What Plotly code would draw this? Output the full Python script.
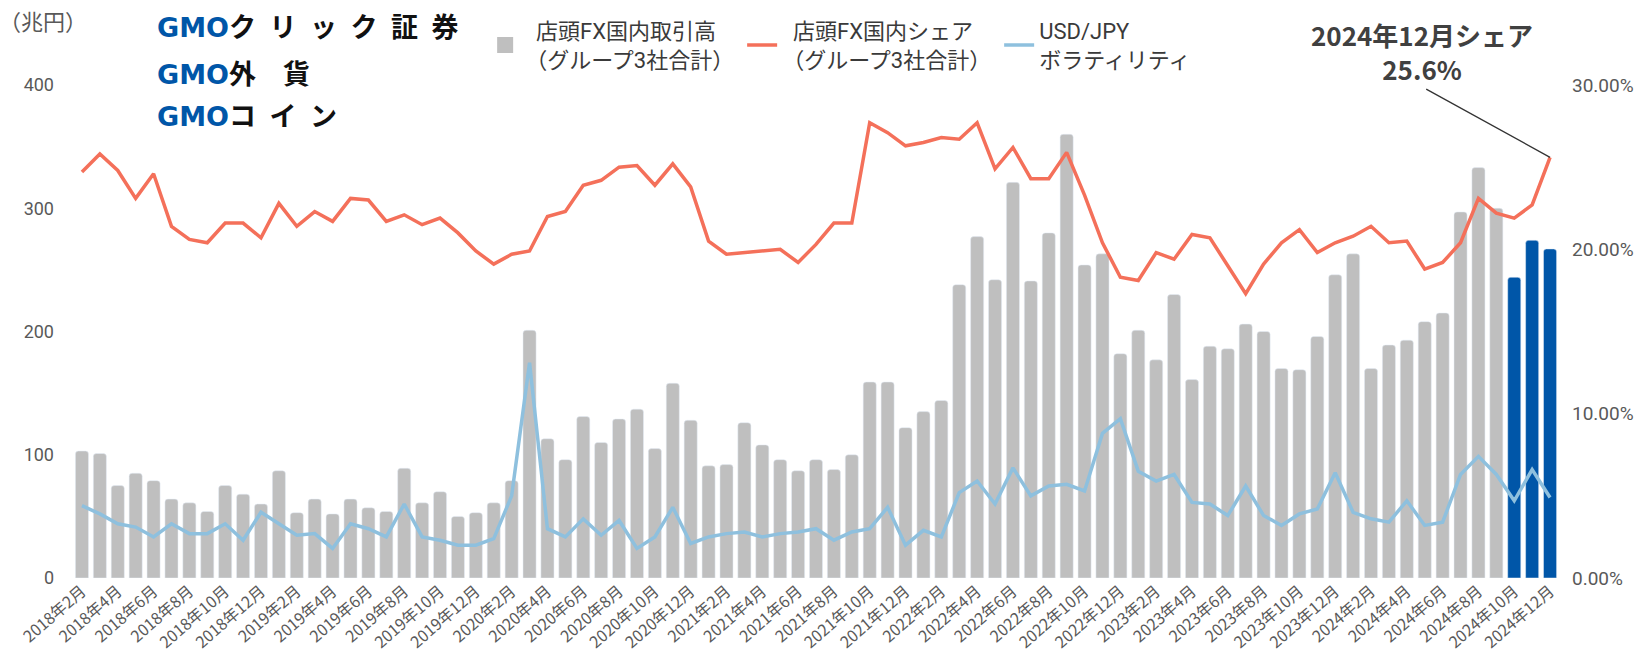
import plotly.graph_objects as go

# 月ラベル 2018年2月 - 2024年12月
months = []
for y in range(2018, 2025):
    for m in range(1, 13):
        if y == 2018 and m < 2:
            continue
        months.append(f"{y}年{m}月")

# 店頭FX国内取引高（兆円）
volume = [103, 101, 75, 85, 79, 64, 61, 54, 75, 68, 60, 87,
          53, 64, 52, 64, 57, 54, 89, 61, 70, 50, 53, 61,
          79, 201, 113, 96, 131, 110, 129, 137, 105, 158, 128,
          91, 92, 126, 108, 96, 87, 96, 88, 100, 159, 159, 122,
          135, 144, 238, 277, 242, 321, 241, 280, 360, 254, 263,
          182, 201, 177, 230, 161, 188, 186, 206, 200, 170, 169,
          196, 246, 263, 170, 189, 193, 208, 215, 297, 333, 300,
          244, 274, 267]

# 店頭FX国内シェア（%）
share = [24.7, 25.8, 24.8, 23.1, 24.6, 21.4, 20.6, 20.4, 21.6, 21.6, 20.7, 22.8,
         21.4, 22.3, 21.7, 23.1, 23.0, 21.7, 22.1, 21.5, 21.9, 21.0, 19.9, 19.1,
         19.7, 19.9, 22.0, 22.3, 23.9, 24.2, 25.0, 25.1, 23.9, 25.2, 23.8,
         20.5, 19.7, 19.8, 19.9, 20.0, 19.2, 20.3, 21.6, 21.6, 27.7, 27.1, 26.3,
         26.5, 26.8, 26.7, 27.7, 24.9, 26.2, 24.3, 24.3, 25.9, 23.3, 20.4,
         18.3, 18.1, 19.8, 19.4, 20.9, 20.7, 19.0, 17.3, 19.1, 20.4, 21.2,
         19.8, 20.4, 20.8, 21.4, 20.4, 20.5, 18.8, 19.2, 20.4, 23.1, 22.2,
         21.9, 22.7, 25.6]

# USD/JPY ボラティリティ（%）
vola = [4.4, 3.9, 3.3, 3.1, 2.5, 3.3, 2.7, 2.7, 3.3, 2.3, 4.0, 3.3,
        2.6, 2.7, 1.8, 3.3, 3.0, 2.5, 4.5, 2.5, 2.3, 2.0, 2.0, 2.4,
        5.0, 13.1, 3.0, 2.5, 3.6, 2.6, 3.5, 1.8, 2.5, 4.3, 2.1,
        2.5, 2.7, 2.8, 2.5, 2.7, 2.8, 3.0, 2.3, 2.8, 3.0, 4.3, 2.0,
        2.9, 2.5, 5.2, 5.9, 4.5, 6.7, 5.0, 5.6, 5.7, 5.3, 8.8,
        9.7, 6.5, 5.9, 6.3, 4.6, 4.5, 3.8, 5.6, 3.8, 3.2, 3.9,
        4.2, 6.4, 4.0, 3.6, 3.4, 4.7, 3.2, 3.4, 6.3, 7.4, 6.3,
        4.7, 6.6, 4.9]

bar_colors = ["#bfbfbf"] * (len(months) - 3) + ["#0056a8"] * 3

FONT = "Roboto, 'Noto Sans CJK JP', sans-serif"
JFONT = "'Noto Sans CJK JP', Roboto, sans-serif"

fig = go.Figure()
fig.add_trace(go.Bar(
    x=months, y=volume, marker=dict(color=bar_colors, cornerradius=3),
    name="vol", showlegend=False))
# 凡例用（グレーの四角）
fig.add_trace(go.Scatter(
    x=[None], y=[None], mode="markers",
    marker=dict(color="#bfbfbf", symbol="square", size=16),
    name="\u00a0\u00a0店頭FX国内取引高<br>（グループ3社合計）"))
fig.add_trace(go.Scatter(
    x=months, y=[s / 100 for s in share], yaxis="y2", mode="lines",
    line=dict(color="#f4705a", width=3.5),
    name="\u00a0\u00a0店頭FX国内シェア<br>（グループ3社合計）"))
fig.add_trace(go.Scatter(
    x=months, y=[v / 100 for v in vola], yaxis="y2", mode="lines",
    line=dict(color="#8ec0de", width=3.5),
    name="USD/JPY<br>ボラティリティ"))

fig.update_layout(
    width=1639, height=657,
    margin=dict(l=73, r=80, t=85, b=79),
    plot_bgcolor="white", paper_bgcolor="white",
    font=dict(family=FONT, color="#595959"),
    bargap=0.27,
    xaxis=dict(
        type="category", tickvals=months[::2], ticktext=months[::2],
        tickangle=-41, tickfont=dict(size=16, family=JFONT, color="#595959"),
        showgrid=False, showline=False, ticks="", automargin=False,
        range=[-0.5, len(months) - 0.5]),
    yaxis=dict(
        range=[0, 400], dtick=100, showgrid=False, zeroline=False,
        tickfont=dict(size=18), ticklabelstandoff=18, automargin=False),
    yaxis2=dict(
        overlaying="y", side="right", range=[0, 0.30],
        tickvals=[0, 0.1, 0.2, 0.3], tickformat=".2%",
        showgrid=False, zeroline=False, tickfont=dict(size=19),
        ticklabelstandoff=12, automargin=False),
    legend=dict(
        orientation="h", xref="container", yref="container",
        x=0.296, xanchor="left", y=0.985, yanchor="top",
        font=dict(size=22, family=FONT, color="#3a3a3a"),
        bgcolor="rgba(0,0,0,0)", itemwidth=30, entrywidth=212,
        tracegroupgap=0),
    showlegend=True,
)

# 単位
fig.add_annotation(
    text="（兆円）", xref="paper", yref="paper", x=-0.02, y=1.132,
    xanchor="center", yanchor="middle", showarrow=False,
    font=dict(size=22, family=JFONT, color="#595959"))

# ロゴ（テキスト）
logos = ["ク\u2002リ\u2002ッ\u2002ク\u2002証\u2002券", "外\u2003貨", "コ\u2002イ\u2002ン"]
logo_y = [1.12, 1.025, 0.94]
for name, ly in zip(logos, logo_y):
    fig.add_annotation(
        text=f"<b><span style='color:#0056a8;font-family:DejaVu Sans'>GMO</span>{name}</b>",
        xref="paper", yref="paper", x=0.055, y=ly,
        xanchor="left", yanchor="middle", showarrow=False,
        font=dict(size=27, family=JFONT, color="#111111"))

# 2024年12月シェア
fig.add_annotation(
    xref="paper", yref="paper", x=0.908, y=1.068,
    text="<b>2024年12月シェア<br>25.6%</b>", showarrow=False,
    xanchor="center", yanchor="middle",
    font=dict(size=26, family=JFONT, color="#404040"))
fig.add_annotation(
    x=months[-1], y=share[-1] / 100, xref="x", yref="y2",
    axref="x", ayref="y2", ax=months[75], ay=0.298, text="",
    showarrow=True, arrowhead=0, arrowwidth=1.3, arrowcolor="#333333")

fig.write_html("out.html", config={"displayModeBar": False},
               post_script="document.body.style.margin='0';")
